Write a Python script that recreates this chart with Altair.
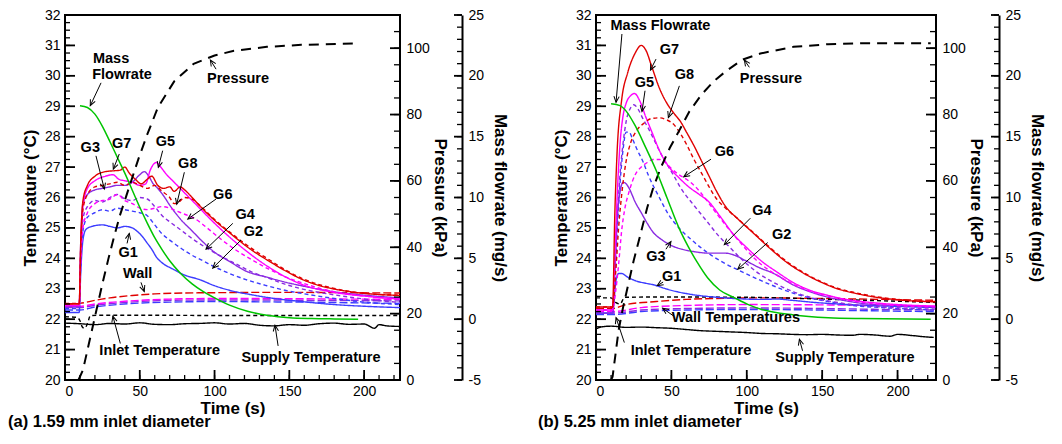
import math
import altair as alt
import pandas as pd

FONT = "Liberation Sans"
RED, MAG, PUR, BLU, GRN, BLK = "#e00000", "#ff00ff", "#8a2be2", "#3c3cff", "#00c400", "#000000"

# ---------------- panel (a): 1.59 mm inlet diameter ----------------
A_G1 = [(0,22.22),(9.5,22.22),(10.5,23.5),(12,24.6),(14,24.95),(18,25.05),(25,25.1),(30,25.05),(35,25.0),(40,25.05),(45,25.0),(48,24.9),(52,24.7),(55,24.5),(58,24.3),(61,24.05),(65,23.85),(72,23.65),(80,23.45),(90,23.3),(100,23.1),(110,22.95),(125,22.8),(140,22.68),(158,22.58),(180,22.48),(202,22.42),(224,22.38)]
A_G2 = [(0,22.35),(9.5,22.35),(10.5,23.8),(12,24.9),(15,25.35),(20,25.5),(25,25.6),(30,25.55),(35,25.65),(40,25.6),(45,25.55),(50,25.5),(55,25.4),(60,25.1),(65,24.8),(70,24.6),(77,24.35),(85,24.1),(93,23.9),(100,23.72),(110,23.5),(121,23.3),(135,23.1),(147,22.95),(158,22.85),(180,22.68),(202,22.55),(224,22.48)]
A_G3 = [(0,22.42),(9.5,22.42),(10.5,24.5),(12,25.8),(15,26.1),(20,26.25),(25,26.3),(30,26.35),(35,26.4),(40,26.4),(45,26.5),(50,26.75),(53,26.85),(56,26.7),(59,26.45),(62,26.3),(66,26.05),(70,25.75),(77,25.3),(85,24.9),(92,24.55),(100,24.2),(110,23.9),(121,23.58),(135,23.38),(147,23.22),(158,23.1),(180,22.9),(202,22.78),(224,22.7)]
A_G4 = [(0,22.4),(9.5,22.4),(10.5,24.0),(12,25.3),(15,25.7),(20,25.9),(25,25.85),(30,26.0),(35,26.1),(40,25.95),(45,25.9),(50,26.0),(55,25.95),(60,25.7),(65,25.4),(70,25.2),(77,24.95),(85,24.65),(96,24.3),(105,24.05),(115,23.8),(125,23.55),(136,23.35),(147,23.15),(158,23.0),(180,22.8),(202,22.65),(224,22.55)]
A_G5 = [(0,22.45),(9.5,22.45),(10.5,24.3),(12,25.7),(15,26.3),(20,26.55),(27,26.7),(32,26.75),(36,26.6),(40,26.55),(45,26.5),(50,26.4),(54,26.45),(57,26.9),(61,27.15),(64,27.0),(68,26.75),(72,26.55),(77,26.3),(83,26.0),(88,25.75),(99,25.2),(110,24.7),(121,24.25),(132,23.85),(147,23.4),(158,23.15),(180,22.88),(202,22.75),(224,22.66)]
A_G6 = [(0,22.45),(9.5,22.45),(10.5,23.8),(12,25.0),(15,25.5),(20,25.8),(25,25.9),(30,25.95),(35,26.1),(40,25.9),(45,25.8),(50,25.65),(55,25.6),(60,25.65),(65,25.7),(70,25.65),(75,25.55),(80,25.45),(87,25.3),(95,25.0),(105,24.6),(115,24.25),(125,23.95),(136,23.65),(147,23.4),(158,23.2),(180,22.9),(202,22.75),(224,22.65)]
A_G7 = [(0,22.5),(9.5,22.5),(10.5,24.5),(12,25.9),(15,26.4),(20,26.7),(27,26.85),(33,26.88),(37,26.9),(40,27.0),(43,26.8),(47,26.6),(51,26.45),(55,26.6),(58,26.7),(62,26.4),(66,26.3),(70,26.35),(73,26.2),(77,26.35),(80,26.25),(85,26.0),(91,25.68),(100,25.25),(111,24.8),(124,24.3),(136,23.92),(147,23.6),(158,23.32),(169,23.12),(180,22.99),(191,22.9),(202,22.84),(224,22.78)]
A_G8 = [(0,22.52),(9.5,22.52),(10.5,24.3),(12,25.6),(15,26.1),(20,26.35),(25,26.4),(30,26.45),(35,26.5),(40,26.4),(45,26.5),(50,26.4),(55,26.3),(60,26.4),(65,26.2),(70,26.0),(73,25.8),(76,25.85),(80,26.0),(85,25.95),(91,25.7),(100,25.28),(111,24.83),(124,24.35),(136,23.97),(147,23.63),(158,23.35),(169,23.15),(180,23.01),(202,22.84),(224,22.79)]
A_WALL_R = [(0,22.5),(10,22.52),(20,22.62),(30,22.7),(45,22.78),(60,22.83),(80,22.86),(100,22.87),(130,22.88),(160,22.88),(190,22.87),(224,22.86)]
A_WALL_M = [(0,22.42),(10,22.42),(20,22.5),(35,22.57),(50,22.62),(70,22.66),(100,22.68),(130,22.68),(160,22.67),(190,22.66),(224,22.65)]
A_WALL_P = [(0,22.38),(10,22.38),(20,22.46),(35,22.53),(50,22.58),(70,22.62),(100,22.63),(130,22.63),(160,22.62),(190,22.61),(224,22.6)]
A_WALL_B = [(0,22.3),(10,22.3),(20,22.4),(35,22.48),(50,22.53),(70,22.56),(100,22.58),(130,22.57),(160,22.56),(190,22.54),(224,22.52)]
A_INLET = [(0,22.08),(8,22.06),(10,21.95),(11.5,21.75),(13,21.7),(15,21.85),(17,22.12),(30,22.13),(60,22.13),(100,22.12),(150,22.12),(224,22.12)]
A_SUPPLY = [(0,21.87),(10,21.85),(20,21.82),(30,21.86),(40,21.84),(50,21.88),(60,21.83),(70,21.82),(80,21.85),(90,21.86),(100,21.88),(110,21.84),(120,21.86),(130,21.8),(140,21.78),(150,21.82),(160,21.8),(170,21.85),(180,21.87),(190,21.83),(200,21.84),(207,21.7),(210,21.82),(215,21.78),(224,21.76)]
A_PRESSURE = [(9,0),(12,3),(15,9),(18,15),(21,21),(25,29),(29,36.5),(33,43.5),(37,50),(41,55.5),(45,61),(49,66.5),(55,74),(62,82),(73,90),(86,95.3),(100,97.8),(113,99.2),(135,100.4),(158,101),(193,101.4)]
A_MASS = [(10,17.55),(15,17.4),(20,16.85),(25,15.85),(30,14.6),(35,13.3),(40,12.0),(45,10.6),(50,9.2),(55,7.9),(60,6.7),(65,5.7),(70,4.8),(77,3.8),(85,2.9),(92,2.3),(100,1.75),(110,1.15),(122,0.65),(136,0.3),(150,0.12),(165,0.05),(180,0.02),(196,0.0)]
A_TEXT = [("Mass",30.8,30.54),("Flowrate",38.1,30.04),("Pressure",115.7,29.9),("G3",16.9,27.62),("G7",37.9,27.76),("G5",67.1,27.83),("G8",82.1,27.1),("G6",105.5,26.08),("G4",120.4,25.43),("G2",126.0,24.85),("G1",42.3,24.19),("Wall",48.6,23.48),("Inlet Temperature",63.3,20.96),("Supply Temperature",164.5,20.72)]
A_ARROWS = [(24.1,29.77,16.9,29.02),(101,30.22,97.2,30.52),(20.7,27.37,26.3,26.28),(36.3,27.43,32.3,26.93),(65.3,27.54,62.4,26.99),(79.8,26.83,74.7,25.78),(101,25.95,82.1,25.29),(112.2,25.15,94.3,24.3),(117.7,24.6,98.8,23.68),(41.5,24.49,43,24.82),(50.8,23.21,53,22.91),(37,21.2,32,22.1),(142.5,21.12,140.4,21.8)]
A_CAPTION = "(a) 1.59 mm inlet diameter"

# ---------------- panel (b): 5.25 mm inlet diameter ----------------
B_G1 = [(0,22.2),(11,22.2),(12,22.6),(13,23.2),(15,23.5),(17,23.5),(21,23.38),(27,23.25),(33,23.18),(39,23.12),(45,23.02),(54,22.9),(65,22.8),(80,22.72),(95,22.67),(110,22.65),(120,22.66),(130,22.62),(145,22.55),(160,22.5),(180,22.45),(200,22.42),(225,22.38)]
B_G2 = [(0,22.2),(11,22.2),(12.5,23.3),(14,24.8),(16,26.5),(18,27.6),(20,28.15),(22,28.15),(24,27.95),(27,27.6),(31,27.2),(35,26.7),(42,26.0),(48,25.45),(55,25.0),(64,24.58),(75,24.15),(86,23.82),(95,23.6),(108,23.3),(120,23.05),(131,22.85),(142,22.7),(154,22.58),(170,22.45),(190,22.38),(225,22.3)]
B_G3 = [(0,22.2),(11,22.2),(12.5,23.8),(14,25.3),(16,26.2),(18,26.5),(20,26.45),(22,26.3),(26,25.85),(30,25.5),(34,25.15),(38,24.85),(44,24.6),(50,24.42),(57,24.3),(65,24.22),(75,24.17),(86,24.17),(92,24.1),(99,23.93),(108,23.7),(118,23.5),(131,23.12),(142,22.9),(154,22.72),(166,22.6),(180,22.5),(200,22.45),(225,22.4)]
B_G4 = [(0,22.3),(11,22.3),(12.5,23.5),(14,25.2),(16,26.8),(18,27.8),(20,28.5),(23,28.95),(25,29.05),(28,28.9),(31,28.6),(35,28.25),(38,27.95),(44,27.35),(51,26.77),(57,26.25),(64,25.8),(73,25.25),(82,24.7),(87,24.45),(97,23.95),(108,23.5),(120,23.15),(131,22.9),(142,22.72),(154,22.6),(170,22.48),(190,22.4),(225,22.33)]
B_G5 = [(0,22.3),(11,22.3),(12.5,24.0),(14,26.0),(16,27.8),(18,28.7),(20,29.1),(23,29.35),(25.5,29.42),(29,29.18),(33,28.65),(37.5,28.1),(42,27.55),(48.5,27.0),(55,26.65),(62,26.33),(68.5,26.1),(75,25.85),(82,25.4),(91,24.8),(100,24.35),(110,23.9),(120,23.55),(131,23.2),(142,22.95),(154,22.78),(166,22.65),(180,22.56),(200,22.48),(225,22.43)]
B_G6 = [(0,22.3),(11,22.3),(13,22.9),(15,23.8),(17,24.9),(19,25.6),(22,26.2),(26,26.75),(30,27.0),(34,27.15),(38,27.25),(42,27.25),(46,27.15),(50,26.95),(55,26.75),(60,26.6),(66,26.35),(72,26.0),(78,25.6),(85,25.15),(96,24.5),(105,24.0),(115,23.6),(127,23.25),(140,22.95),(155,22.75),(170,22.6),(190,22.48),(225,22.4)]
B_G7 = [(0,22.4),(11,22.4),(12.5,25.5),(14,27.5),(17,29.2),(21,30.1),(26,30.75),(30,31.0),(33,30.85),(37,30.3),(42,29.6),(47,29.1),(52,28.75),(56,28.5),(60,28.15),(65,27.7),(70,27.2),(75,26.7),(80,26.2),(86,25.7),(94,25.3),(105,24.8),(116,24.3),(127,23.85),(138,23.5),(150,23.2),(160,23.0),(172,22.85),(182,22.75),(204,22.62),(225,22.57)]
B_G8 = [(0,22.4),(11,22.4),(13,23.5),(15,25.0),(17.5,26.3),(20,27.2),(23,27.8),(27,28.2),(32,28.45),(37,28.6),(42,28.62),(47,28.55),(52,28.38),(56,28.1),(60,27.75),(65,27.25),(70,26.8),(75,26.35),(80,25.95),(86,25.65),(94,25.3),(105,24.82),(116,24.33),(127,23.88),(138,23.52),(150,23.22),(160,23.02),(172,22.87),(182,22.77),(204,22.63),(225,22.58)]
B_WALL_R = [(0,22.35),(11,22.35),(20,22.48),(40,22.58),(60,22.65),(80,22.68),(110,22.7),(150,22.68),(190,22.65),(225,22.62)]
B_WALL_M = [(0,22.25),(11,22.25),(30,22.38),(60,22.45),(100,22.48),(150,22.47),(190,22.45),(225,22.42)]
B_WALL_P = [(0,22.2),(11,22.2),(30,22.3),(60,22.35),(100,22.37),(150,22.35),(190,22.32),(225,22.3)]
B_WALL_B = [(0,22.15),(11,22.15),(30,22.25),(60,22.3),(100,22.32),(150,22.3),(190,22.27),(225,22.25)]
B_INLET = [(0,22.7),(10,22.7),(13,22.55),(16,22.5),(19,22.72),(50,22.73),(100,22.72),(150,22.66),(225,22.55)]
B_SUPPLY = [(0,21.68),(4,21.75),(10,21.77),(20,21.73),(30,21.74),(40,21.72),(50,21.7),(60,21.66),(70,21.62),(80,21.6),(90,21.58),(100,21.56),(110,21.53),(120,21.52),(130,21.5),(140,21.49),(150,21.5),(160,21.48),(170,21.47),(175,21.5),(185,21.48),(195,21.44),(200,21.5),(210,21.46),(218,21.42),(224,21.4)]
B_PRESSURE = [(10,0),(11,1),(13,8),(15,15),(18,22),(21,28),(25,36),(29,43),(34,52),(38,58),(43,64),(49,70),(55,75),(62,81),(70,86),(78,90),(86,93),(97,96.5),(109,98.4),(131,100.4),(154,101.2),(176,101.5),(222,101.5)]
B_MASS = [(10,17.7),(16,17.55),(20,17.1),(26,15.9),(33,14.1),(40,12.2),(47,10.0),(55,7.5),(61,6.0),(67,4.7),(74,3.4),(82,2.4),(92,1.75),(101,1.2),(110,0.8),(131,0.35),(154,0.12),(176,0.05),(222,0.0)]
B_TEXT = [("Mass Flowrate",42.7,31.63),("G7",48.7,30.86),("G5",32.1,29.76),("G8",58.6,30.03),("Pressure",116.0,29.9),("G6",85.1,27.5),("G4",110.0,25.56),("G2",123.1,24.77),("G3",39.8,24.06),("G1",50.2,23.37),("Wall Temperatures",92.8,22.05),("Inlet Temperature",63.0,20.96),("Supply Temperature",165.1,20.72)]
B_ARROWS = [(17.2,31.375,13.3,29.13),(39.8,30.55,36.1,30.19),(32.5,29.51,30.5,28.83),(55.3,29.67,48.0,28.63),(101.7,30.28,98.4,30.52),(76.3,27.26,58.2,26.68),(102.4,25.32,85.1,24.45),(113.9,24.52,94.0,23.64),(46.4,24.3,49.7,24.55),(44.5,23.22,40.6,23.1),(51.3,22.11,44.2,22.36),(18.8,21.23,13.3,22.05),(137.0,20.96,134.9,21.34)]
B_CAPTION = "(b) 5.25 mm inlet diameter"

# axis tick positions (major / minor)
TIME_MAJOR = [0, 50, 100, 150, 200]
TIME_MINOR = list(range(0, 221, 10))
TEMP_MAJOR = list(range(20, 33))
TEMP_MINOR = [20 + 0.25 * i for i in range(49)]
PRESS_MAJOR = [0, 20, 40, 60, 80, 100]
PRESS_MINOR = list(range(0, 111, 5))
MASS_MAJOR = list(range(-5, 26, 5))
MASS_MINOR = list(range(-5, 26))

SERIES = ["WallB", "WallP", "WallM", "WallR", "Inlet", "Supply", "G1", "G2", "G3", "G4", "G5", "G6", "G7", "G8"]
COLORS = [BLU, PUR, MAG, RED, BLK, BLK, BLU, BLU, PUR, PUR, MAG, MAG, RED, RED]
DASHES = [[8, 3], [8, 3], [8, 3], [8, 3], [4, 3], [1, 0], [1, 0], [4, 3], [1, 0], [4, 3], [1, 0], [4, 3], [1, 0], [4, 3]]

PLOT_H = 365


def frame(pairs, name=None):
    df = pd.DataFrame(pairs, columns=["t", "v"])
    if name is not None:
        df["series"] = name
    return df


def num_axis(**kw):
    return alt.Axis(grid=False, ticks=False, labelExpr="'' + datum.value", **kw)


def yticks(vals, scale, x_from, x_to, thick):
    # short horizontal rules at the axis values, pointing into the frame
    return alt.Chart(pd.DataFrame({"v": vals})).mark_rule(color=BLK, strokeWidth=thick).encode(
        y=alt.Y("v:Q", scale=scale, axis=None), x=alt.value(x_from), x2=alt.value(x_to))


def xticks(vals, scale, length, thick):
    return alt.Chart(pd.DataFrame({"t": vals})).mark_rule(color=BLK, strokeWidth=thick).encode(
        x=alt.X("t:Q", scale=scale, axis=None), y=alt.value(PLOT_H), y2=alt.value(PLOT_H - length))


def panel(curves, pressure, mass, texts, arrows, caption, width, xmax, cap_dx, mass_offset):
    sx = width / xmax
    sy = PLOT_H / 12.0
    xs = alt.Scale(domain=[0, xmax], nice=False, zero=False)
    ts = alt.Scale(domain=[20, 32], nice=False, zero=False)
    ps = alt.Scale(domain=[0, 110], nice=False, zero=False)
    ms = alt.Scale(domain=[-5, 25], nice=False, zero=False)

    temp_df = pd.concat([frame(p, n) for n, p in curves.items()], ignore_index=True)
    press_df = frame(pressure)
    mass_df = frame(mass)

    temp = alt.Chart(temp_df).mark_line(strokeWidth=1.4, interpolate="monotone").encode(
        x=alt.X("t:Q", scale=xs, axis=num_axis(orient="bottom", values=TIME_MAJOR,
                                               title="Time (s)", labelPadding=4, titlePadding=2, domain=False)),
        y=alt.Y("v:Q", scale=ts, axis=num_axis(orient="left", values=TEMP_MAJOR,
                                               title="Temperature (°C)", labelPadding=5, titlePadding=5,
                                               domain=False)),
        color=alt.Color("series:N", scale=alt.Scale(domain=SERIES, range=COLORS), legend=None),
        strokeDash=alt.StrokeDash("series:N", scale=alt.Scale(domain=SERIES, range=DASHES), legend=None),
        detail="series:N",
    )
    press = alt.Chart(press_df).mark_line(color=BLK, strokeWidth=2, strokeDash=[10, 7]).encode(
        x=alt.X("t:Q", scale=xs, axis=None),
        y=alt.Y("v:Q", scale=ps, axis=num_axis(orient="right", values=PRESS_MAJOR,
                                               title="Pressure (kPa)", labelPadding=6, titlePadding=1,
                                               domain=False)),
    )
    mflow = alt.Chart(mass_df).mark_line(color=GRN, strokeWidth=1.5, interpolate="monotone").encode(
        x=alt.X("t:Q", scale=xs, axis=None),
        y=alt.Y("v:Q", scale=ms, axis=num_axis(orient="right", offset=mass_offset, values=MASS_MAJOR,
                                               title="Mass flowrate (mg/s)", labelPadding=6, titlePadding=7,
                                               domain=True, domainWidth=2, domainColor="black")),
    )

    mx = width + mass_offset
    tick_layers = [
        xticks(TIME_MAJOR, xs, 10, 1.8),
        xticks([v for v in TIME_MINOR if v <= xmax], xs, 5, 1.3),
        yticks(TEMP_MAJOR, ts, 0, 10, 1.8),
        yticks(TEMP_MINOR, ts, 0, 5, 1.3),
        yticks(PRESS_MAJOR, ps, width - 10, width, 1.8),
        yticks(PRESS_MINOR, ps, width - 6, width, 1.3),
        yticks(MASS_MAJOR, ms, mx - 8, mx, 1.8),
        yticks(MASS_MINOR, ms, mx - 5, mx, 1.3),
    ]

    rows = []
    for t1, v1, t2, v2 in arrows:
        dx = (t2 - t1) * sx
        dy = -(v2 - v1) * sy
        ang = math.degrees(math.atan2(dx, -dy)) % 360
        rows.append({"t1": t1, "v1": v1, "t2": t2, "v2": v2, "ang": ang})
    arr_df = pd.DataFrame(rows)
    shafts = alt.Chart(arr_df).mark_rule(color=BLK, strokeWidth=1).encode(
        x=alt.X("t1:Q", scale=xs, axis=None), x2="t2:Q",
        y=alt.Y("v1:Q", scale=ts, axis=None), y2="v2:Q",
    )
    heads = alt.Chart(arr_df).mark_point(shape="M -0.45 1 L 0 0 L 0.45 1", size=140, filled=False,
                                         color=BLK, strokeWidth=1, opacity=1).encode(
        x=alt.X("t2:Q", scale=xs, axis=None),
        y=alt.Y("v2:Q", scale=ts, axis=None),
        angle=alt.Angle("ang:Q", scale=None),
    )
    txt_df = pd.DataFrame(texts, columns=["label", "t", "v"])
    labels = alt.Chart(txt_df).mark_text(font=FONT, fontSize=14.5, fontWeight="bold", color=BLK,
                                         align="center", baseline="middle").encode(
        x=alt.X("t:Q", scale=xs, axis=None),
        y=alt.Y("v:Q", scale=ts, axis=None),
        text="label:N",
    )
    cap = alt.Chart(pd.DataFrame({"label": [caption]})).mark_text(
        font=FONT, fontSize=16.5, fontWeight="bold", color=BLK, align="left", baseline="middle"
    ).encode(text="label:N", x=alt.value(cap_dx), y=alt.value(407))

    return alt.layer(temp, press, mflow, *tick_layers, shafts, heads, labels, cap).resolve_scale(
        x="independent", y="independent", color="independent", strokeDash="independent"
    ).properties(width=width, height=PLOT_H)


curves_a = {"WallB": A_WALL_B, "WallP": A_WALL_P, "WallM": A_WALL_M, "WallR": A_WALL_R,
            "Inlet": A_INLET, "Supply": A_SUPPLY, "G1": A_G1, "G2": A_G2, "G3": A_G3, "G4": A_G4,
            "G5": A_G5, "G6": A_G6, "G7": A_G7, "G8": A_G8}
curves_b = {"WallB": B_WALL_B, "WallP": B_WALL_P, "WallM": B_WALL_M, "WallR": B_WALL_R,
            "Inlet": B_INLET, "Supply": B_SUPPLY, "G1": B_G1, "G2": B_G2, "G3": B_G3, "G4": B_G4,
            "G5": B_G5, "G6": B_G6, "G7": B_G7, "G8": B_G8}

pa = panel(curves_a, A_PRESSURE, A_MASS, A_TEXT, A_ARROWS, A_CAPTION, 335, 224, -57, 62)
pb = panel(curves_b, B_PRESSURE, B_MASS, B_TEXT, B_ARROWS, B_CAPTION, 340, 225.5, -58, 63)

chart = alt.hconcat(pa, pb, spacing=27).properties(
    padding={"left": -1, "top": -1, "right": 0, "bottom": 0}
).configure_view(stroke="black", strokeWidth=2).configure_axis(
    labelFont=FONT, labelFontSize=14, labelColor="black",
    titleFont=FONT, titleFontSize=17, titleFontWeight="bold", titleColor="black",
    domainColor="black", grid=False,
)

chart.save("out.html", embed_options={"renderer": "svg", "actions": False})
